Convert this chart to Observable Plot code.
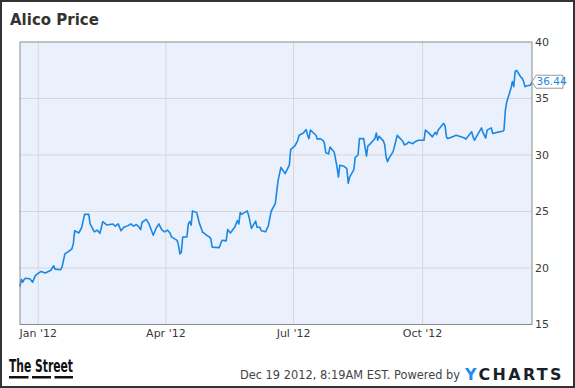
<!DOCTYPE html>
<html><head><meta charset="utf-8">
<script src="https://cdn.jsdelivr.net/npm/d3@7"></script>
<script src="https://cdn.jsdelivr.net/npm/@observablehq/plot@0.6"></script>
<style>body{margin:0;background:#fff} svg{display:block}</style>
</head><body><div id="chart"></div>
<script>
const title = "Alico Price";
const footerText = "Dec 19 2012, 8:19AM EST. Powered by";
const lastLabel = "36.44";
const yTicks = [15, 20, 25, 30, 35, 40];
const xTicks = ["2012-01-01", "2012-04-01", "2012-07-01", "2012-10-01"];
const xTickLabels = ["Jan '12", "Apr '12", "Jul '12", "Oct '12"];
const xDomain = ["2011-12-19", "2012-12-18"];

const dates = [
"2011-12-19","2011-12-20","2011-12-21","2011-12-22","2011-12-23","2011-12-26","2011-12-28","2011-12-30",
"2012-01-03","2012-01-06","2012-01-10","2012-01-12","2012-01-13","2012-01-17","2012-01-18","2012-01-20",
"2012-01-22","2012-01-25","2012-01-26","2012-01-27","2012-01-30","2012-02-01","2012-02-03","2012-02-06",
"2012-02-07","2012-02-10","2012-02-12","2012-02-14","2012-02-16","2012-02-19","2012-02-23","2012-02-25",
"2012-02-27","2012-02-29","2012-03-02","2012-03-05","2012-03-07","2012-03-09","2012-03-11","2012-03-13",
"2012-03-14","2012-03-15","2012-03-18","2012-03-20","2012-03-23","2012-03-25","2012-03-27","2012-03-29",
"2012-03-31","2012-04-02","2012-04-04","2012-04-05","2012-04-09","2012-04-10","2012-04-11","2012-04-12",
"2012-04-13","2012-04-16","2012-04-17","2012-04-18","2012-04-19","2012-04-20","2012-04-23","2012-04-25",
"2012-04-26","2012-04-27","2012-04-30","2012-05-02","2012-05-03","2012-05-04","2012-05-09","2012-05-10",
"2012-05-11","2012-05-14","2012-05-15","2012-05-17","2012-05-20","2012-05-22","2012-05-23","2012-05-24",
"2012-05-25","2012-05-29","2012-05-30","2012-06-01","2012-06-04","2012-06-05","2012-06-07","2012-06-08",
"2012-06-11","2012-06-13","2012-06-15","2012-06-18","2012-06-20","2012-06-22","2012-06-25","2012-06-28",
"2012-06-29","2012-07-02","2012-07-04","2012-07-05","2012-07-08","2012-07-10","2012-07-11","2012-07-12",
"2012-07-13","2012-07-17","2012-07-18","2012-07-20","2012-07-22","2012-07-23","2012-07-24","2012-07-26",
"2012-07-27","2012-07-30","2012-08-01","2012-08-02","2012-08-03","2012-08-06","2012-08-08","2012-08-09",
"2012-08-10","2012-08-13","2012-08-14","2012-08-16","2012-08-17","2012-08-20","2012-08-22","2012-08-23",
"2012-08-24","2012-08-27","2012-08-28","2012-08-29","2012-08-30","2012-08-31","2012-09-03","2012-09-04",
"2012-09-05","2012-09-06","2012-09-07","2012-09-10","2012-09-13","2012-09-14","2012-09-17","2012-09-18",
"2012-09-20","2012-09-21","2012-09-24","2012-09-26","2012-09-28","2012-10-02","2012-10-03","2012-10-05",
"2012-10-08","2012-10-10","2012-10-11","2012-10-12","2012-10-15","2012-10-16","2012-10-17","2012-10-18",
"2012-10-19","2012-10-22","2012-10-25","2012-10-31","2012-11-01","2012-11-02","2012-11-05","2012-11-06",
"2012-11-07","2012-11-09","2012-11-12","2012-11-13","2012-11-15","2012-11-16","2012-11-19","2012-11-20",
"2012-11-23","2012-11-27","2012-11-28","2012-11-29","2012-11-30","2012-12-03","2012-12-04","2012-12-05",
"2012-12-06","2012-12-07","2012-12-10","2012-12-11","2012-12-12","2012-12-13","2012-12-14","2012-12-17",
"2012-12-18"
];
const prices = [
18.4,19.0,18.75,19.0,19.1,19.05,18.75,19.35,
19.7,19.55,19.8,20.2,19.9,19.85,20.1,21.25,
21.4,21.7,22.15,23.3,23.1,23.6,24.75,24.75,
23.9,23.2,23.35,23.07,24.1,23.8,23.9,23.7,
23.9,23.3,23.6,23.75,23.9,23.7,23.85,23.6,
23.4,24.05,24.3,23.9,22.9,23.5,23.9,23.4,
23.2,23.35,23.1,22.75,22.45,22.0,21.25,21.4,
22.75,22.75,23.9,24.1,23.8,25.05,24.9,23.9,
23.6,23.2,22.9,22.75,22.6,21.85,21.8,22.15,
22.45,22.4,23.4,23.1,23.6,24.2,23.9,24.9,
24.75,25.05,24.65,23.5,24.15,23.6,23.6,23.3,
23.2,23.7,25.0,25.7,27.75,28.9,28.35,29.1,
30.5,30.8,31.3,31.75,31.95,32.25,31.75,31.45,
32.2,31.75,31.4,31.45,31.3,31.05,30.2,30.1,
30.7,30.25,28.95,28.05,29.1,29.0,28.8,27.5,
28.05,28.7,29.8,30.0,31.45,31.45,29.9,30.8,
30.9,31.3,31.45,31.95,31.3,31.65,31.25,30.9,
29.8,29.4,29.7,30.3,31.75,31.6,31.2,30.9,
31.0,31.15,31.0,31.2,31.3,31.3,32.2,32.0,
31.6,32.0,31.8,32.2,32.65,32.8,32.6,31.6,
31.45,31.6,31.75,31.5,31.4,31.6,32.05,31.6,
31.3,31.75,32.4,32.0,31.5,32.2,32.4,31.9,
32.0,32.1,32.2,33.95,34.7,35.9,36.5,36.05,
37.4,37.5,36.9,36.8,36.5,36.05,36.1,36.2,
36.44
];

const data = dates.map((d, i) => ({date: new Date(d), price: prices[i]}));
const xTickDates = xTicks.map(d => new Date(d));
const labelOf = new Map(xTickDates.map((d, i) => [+d, xTickLabels[i]]));
const lineColor = "#1a87e4";
const font = "DejaVu Sans, sans-serif";

const chart = Plot.plot({
  width: 575, height: 388,
  marginLeft: 19.5, marginRight: 43.5, marginTop: 41.5, marginBottom: 64,
  style: {fontFamily: font, fontSize: "11px", color: "#3a3a3a", background: "transparent", overflow: "visible"},
  x: {type: "utc", domain: xDomain.map(d => new Date(d))},
  y: {domain: [yTicks[0], yTicks[yTicks.length - 1]]},
  marks: [
    Plot.frame({fill: "#eaf1fc", stroke: "none"}),
    Plot.ruleX(xTickDates, {stroke: "#d6d6d6", strokeWidth: 1}),
    Plot.ruleY(yTicks.slice(1, -1), {stroke: "#d6d6d6", strokeWidth: 1}),
    Plot.line(data, {x: "date", y: "price", stroke: lineColor, strokeWidth: 1.6}),
    Plot.frame({stroke: "#8c8c8c", strokeWidth: 1}),
    Plot.axisY(yTicks, {anchor: "right", tickSize: 0, tickPadding: 3, label: null}),
    Plot.axisX(xTickDates, {anchor: "bottom", tickSize: 0, tickPadding: 5, label: null, tickFormat: d => labelOf.get(+d)})
  ]
});

const svg = d3.select(chart);
const ys = chart.scale("y"), xs = chart.scale("x");
const addText = (x, y, s, size, attrs = {}) => {
  const t = svg.append("text").attr("x", x).attr("y", y).text(s)
    .attr("font-family", font).attr("font-size", size).attr("text-anchor", "start");
  for (const [k, v] of Object.entries(attrs)) t.attr(k, v);
  return t;
};
// outer border
svg.append("rect").attr("x", 1).attr("y", 1).attr("width", 573).attr("height", 386)
  .attr("fill", "none").attr("stroke", "#333").attr("stroke-width", 2);
// title
addText(10, 25, title, 15, {"font-weight": "bold", fill: "#333"});
// last value callout
const last = data[data.length - 1];
const cy = ys.apply(last.price), cx = xs.range[1] + 0.5;
svg.append("path")
  .attr("d", `M${cx},${cy} L${cx + 4},${cy - 6.5} L${cx + 31},${cy - 6.5} L${cx + 31},${cy + 6.5} L${cx + 4},${cy + 6.5} Z`)
  .attr("fill", "#fff").attr("stroke", "#999").attr("stroke-width", 1);
addText(cx + 4.5, cy, lastLabel, 10.5, {dy: "0.35em", fill: lineColor});
// footer: The Street logo
addText(9, 372, "The Street", 17, {"font-family": "DejaVu Sans Condensed, Liberation Sans Narrow, sans-serif",
  "font-weight": "bold", fill: "#111", textLength: 64, lengthAdjust: "spacingAndGlyphs"});
[[9, 19.5], [32, 19], [54.5, 18.5]].forEach(([x, w]) =>
  svg.append("rect").attr("x", x).attr("y", 376).attr("width", w).attr("height", 2.5).attr("fill", "#111"));
// footer text
addText(460, 379, footerText, 11.4, {"text-anchor": "end", fill: "#444"});
// YCHARTS logo
const yc = addText(465, 379.5, "", 16.5, {"font-weight": "bold", "letter-spacing": 2.5,
  textLength: 99, lengthAdjust: "spacingAndGlyphs"});
yc.append("tspan").attr("fill", "#1e8ef0").text("Y");
yc.append("tspan").attr("fill", "#1a1f2b").text("CHARTS");

document.getElementById("chart").append(chart);
</script>
</body></html>
